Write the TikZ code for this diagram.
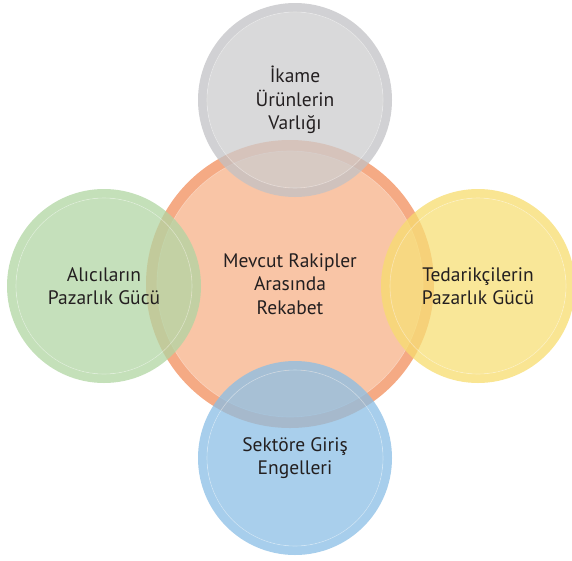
\documentclass[tikz,border=0pt]{standalone}
\usepackage{fontspec}
\setmainfont{PT Sans}
\usetikzlibrary{positioning}
\definecolor{ink}       {HTML}{231F20}
\definecolor{rivalfill} {HTML}{F9C5A6}
\definecolor{rivalring} {HTML}{F5AA84}
\definecolor{subsfill}  {HTML}{CCCCCE}
\definecolor{subsring}  {HTML}{C2C2C5}
\definecolor{buyfill}   {HTML}{B2D6A4}
\definecolor{buyring}   {HTML}{B0D5A2}
\definecolor{sellfill}  {HTML}{F7DF76}
\definecolor{sellring}  {HTML}{F7DC6E}
\definecolor{entryfill} {HTML}{8CBFE5}
\definecolor{entryring} {HTML}{8ABEE5}

\begin{document}
\begin{tikzpicture}[
  x=1pt, y=-1pt,
  font=\fontsize{19.5}{23.5}\selectfont,
  bubble/.style={circle, minimum size=176pt, inner sep=0pt,
                 fill opacity=0.75, text opacity=1, text=ink, align=center},
  core/.style={circle, minimum size=277pt, line width=11pt, inner sep=0pt,
               text=ink, align=center},
  band/.style={even odd rule, fill opacity=0.75},
  seam/.style={draw=white, line width=0.6pt, opacity=0.4}
]
\useasboundingbox (0,0) rectangle (572,560);

\node[core, fill=rivalfill, draw=rivalring] (rivals) at (290,284)
  {Mevcut Rakipler\\ Arasında\\ Rekabet};
\draw[seam] (rivals.center) circle[radius=133pt];

\node[bubble, fill=subsfill] (subs) at (295,100)
  {İkame\\ Ürünlerin\\ Varlığı};
\node[bubble, fill=buyfill] (buyers) at (104,286)
  {Alıcıların\\ Pazarlık Gücü};
\node[bubble, fill=sellfill] (sellers) at (478,286)
  {Tedarikçilerin\\ Pazarlık Gücü};
\node[bubble, fill=entryfill] (entry) at (295,458)
  {Sektöre Giriş\\ Engelleri};

% outer band and thin light line of each small circle
\foreach \n/\c in {subs/subsring,buyers/buyring,sellers/sellring,entry/entryring}{
  \fill[band, fill=\c] (\n.center) circle[radius=97pt] circle[radius=88pt];
  \draw[seam] (\n.center) circle[radius=88pt];
}
\end{tikzpicture}
\end{document}
